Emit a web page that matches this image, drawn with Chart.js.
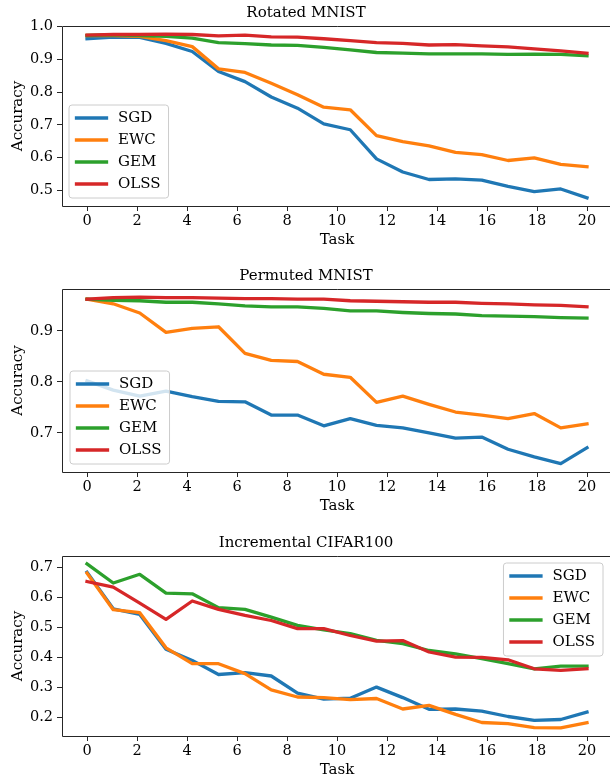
<!DOCTYPE html>
<html>
<head>
<meta charset="utf-8">
<script src="https://cdn.jsdelivr.net/npm/chart.js@4.4.0/dist/chart.umd.min.js"></script>
<style>
html, body { margin: 0; padding: 0; background: #fff; overflow: hidden; width: 610px; height: 778px; position: relative; }
canvas { position: absolute; left: 0; }
</style>
</head>
<body>
<canvas id="rotChart" width="612" height="250" style="top:0px"></canvas>
<canvas id="permChart" width="612" height="253" style="top:263px"></canvas>
<canvas id="cifarChart" width="612" height="250" style="top:530px"></canvas>
<script>
// 任务编号 (20 个点, 0~20)
const taskX = [0, 1.05, 2.11, 3.16, 4.21, 5.26, 6.32, 7.37, 8.42, 9.47, 10.53, 11.58, 12.63, 13.68, 14.74, 15.79, 16.84, 17.89, 18.95, 20];
const xTicks = [0, 2, 4, 6, 8, 10, 12, 14, 16, 18, 20];
const methods = ['SGD', 'EWC', 'GEM', 'OLSS'];
const colors = ['#1f77b4', '#ff7f0e', '#2ca02c', '#d62728'];

// Rotated MNIST
const rotSGD = [0.963, 0.968, 0.967, 0.949, 0.924, 0.863, 0.832, 0.785, 0.751, 0.703, 0.685, 0.596, 0.556, 0.533, 0.535, 0.531, 0.512, 0.496, 0.504, 0.477];
const rotEWC = [0.973, 0.973, 0.970, 0.957, 0.939, 0.871, 0.860, 0.827, 0.792, 0.754, 0.746, 0.667, 0.649, 0.636, 0.616, 0.609, 0.591, 0.599, 0.579, 0.572];
const rotGEM = [0.973, 0.975, 0.973, 0.970, 0.965, 0.951, 0.948, 0.944, 0.943, 0.937, 0.929, 0.921, 0.919, 0.917, 0.917, 0.917, 0.915, 0.916, 0.915, 0.911];
const rotOLSS = [0.974, 0.976, 0.976, 0.977, 0.976, 0.972, 0.974, 0.969, 0.968, 0.963, 0.957, 0.951, 0.949, 0.944, 0.945, 0.941, 0.938, 0.932, 0.926, 0.919];
const rotTicks = [0.5, 0.6, 0.7, 0.8, 0.9, 1.0];

// Permuted MNIST
const permSGD = [0.802, 0.784, 0.772, 0.782, 0.771, 0.762, 0.761, 0.735, 0.735, 0.714, 0.728, 0.715, 0.710, 0.700, 0.690, 0.692, 0.668, 0.653, 0.640, 0.671];
const permEWC = [0.962, 0.953, 0.935, 0.897, 0.905, 0.908, 0.856, 0.842, 0.840, 0.815, 0.809, 0.760, 0.772, 0.756, 0.741, 0.735, 0.728, 0.738, 0.710, 0.718];
const permGEM = [0.962, 0.960, 0.959, 0.956, 0.956, 0.953, 0.949, 0.947, 0.947, 0.944, 0.939, 0.939, 0.936, 0.934, 0.933, 0.930, 0.929, 0.928, 0.926, 0.925];
const permOLSS = [0.962, 0.965, 0.966, 0.965, 0.965, 0.964, 0.963, 0.963, 0.962, 0.962, 0.959, 0.958, 0.957, 0.956, 0.956, 0.954, 0.953, 0.951, 0.950, 0.947];
const permTicks = [0.7, 0.8, 0.9];

// Incremental CIFAR100
const cifarSGD = [0.685, 0.563, 0.544, 0.428, 0.391, 0.344, 0.350, 0.339, 0.282, 0.262, 0.265, 0.302, 0.267, 0.228, 0.229, 0.222, 0.204, 0.191, 0.194, 0.219];
const cifarEWC = [0.682, 0.560, 0.550, 0.433, 0.380, 0.380, 0.347, 0.293, 0.269, 0.267, 0.260, 0.264, 0.229, 0.241, 0.211, 0.184, 0.180, 0.167, 0.166, 0.183];
const cifarGEM = [0.713, 0.649, 0.678, 0.615, 0.613, 0.567, 0.561, 0.535, 0.508, 0.493, 0.480, 0.458, 0.447, 0.424, 0.413, 0.397, 0.380, 0.363, 0.372, 0.372];
const cifarOLSS = [0.654, 0.635, 0.582, 0.528, 0.589, 0.561, 0.541, 0.524, 0.497, 0.497, 0.474, 0.455, 0.457, 0.419, 0.402, 0.401, 0.393, 0.363, 0.358, 0.363];
const cifarTicks = [0.2, 0.3, 0.4, 0.5, 0.6, 0.7];

window.onload = function() {
    Chart.defaults.font.family = "'DejaVu Serif', serif";
    Chart.defaults.color = '#000';

    // 上、左、下边框 (右边框在画面外)
    const spines = {
        id: 'spines',
        afterDatasetsDraw(chart) {
            const ctx = chart.ctx;
            const a = chart.chartArea;
            const right = chart.width;
            ctx.save();
            ctx.strokeStyle = '#262626';
            ctx.lineWidth = 1;
            ctx.beginPath();
            ctx.moveTo(right, a.top + 0.5);
            ctx.lineTo(a.left + 0.5, a.top + 0.5);
            ctx.lineTo(a.left + 0.5, a.bottom + 0.5);
            ctx.lineTo(right, a.bottom + 0.5);
            ctx.stroke();
            ctx.restore();
        }
    };

    // matplotlib 风格图例
    const boxLegend = {
        id: 'boxLegend',
        afterDatasetsDraw(chart, args, opts) {
            const ctx = chart.ctx;
            const a = chart.chartArea;
            const sets = chart.data.datasets;
            ctx.save();
            ctx.font = "15px 'DejaVu Serif', serif";
            const textW = Math.max(...sets.map(d => ctx.measureText(d.label).width));
            const w = 49 + textW + 8;
            const h = 13 + (sets.length - 1) * 22 + 14;
            const x = opts.corner === 'upperright' ? a.right - opts.dx - w : a.left + opts.dx;
            const y = opts.corner === 'upperright' ? a.top + opts.dy : a.bottom - opts.dy - h;
            const r = 3;
            ctx.beginPath();
            ctx.moveTo(x + r, y);
            ctx.arcTo(x + w, y, x + w, y + h, r);
            ctx.arcTo(x + w, y + h, x, y + h, r);
            ctx.arcTo(x, y + h, x, y, r);
            ctx.arcTo(x, y, x + w, y, r);
            ctx.closePath();
            ctx.fillStyle = 'rgba(255,255,255,0.8)';
            ctx.fill();
            ctx.strokeStyle = '#cccccc';
            ctx.lineWidth = 1;
            ctx.stroke();
            sets.forEach((d, i) => {
                const cy = y + 13 + i * 22;
                ctx.strokeStyle = d.borderColor;
                ctx.lineWidth = 3.3;
                ctx.lineCap = 'square';
                ctx.beginPath();
                ctx.moveTo(x + 7.5, cy);
                ctx.lineTo(x + 37.5, cy);
                ctx.stroke();
                ctx.fillStyle = '#000';
                ctx.textBaseline = 'middle';
                ctx.textAlign = 'left';
                ctx.fillText(d.label, x + 49, cy);
            });
            ctx.restore();
        }
    };

    function makeChart(id, title, series, yMin, yMax, yTicks, legendOpts) {
        const ctx = document.getElementById(id).getContext('2d');
        return new Chart(ctx, {
            type: 'line',
            data: {
                datasets: series.map((s, i) => ({
                    label: methods[i],
                    data: s.map((v, j) => ({ x: taskX[j], y: v })),
                    borderColor: colors[i],
                    backgroundColor: colors[i],
                    borderWidth: 3.3,
                    borderCapStyle: 'square',
                    borderJoinStyle: 'round',
                    pointRadius: 0,
                    tension: 0,
                    fill: false,
                    order: series.length - i
                }))
            },
            options: {
                responsive: false,
                animation: false,
                devicePixelRatio: 1,
                layout: { padding: 0 },
                scales: {
                    x: {
                        type: 'linear',
                        min: -1,
                        max: 21,
                        afterBuildTicks: s => { s.ticks = xTicks.map(v => ({ value: v })); },
                        afterFit: s => { s.height = 44; },
                        grid: { display: true, drawOnChartArea: false, drawTicks: true, tickLength: 5, tickColor: '#262626' },
                        border: { display: false },
                        ticks: { padding: 2, font: { size: 14.5 }, maxRotation: 0, callback: v => String(v) },
                        title: { display: true, text: 'Task', font: { size: 15 }, padding: { top: 0, bottom: 1 } }
                    },
                    y: {
                        min: yMin,
                        max: yMax,
                        afterBuildTicks: s => { s.ticks = yTicks.map(v => ({ value: v })); },
                        afterFit: s => { s.width = 62; },
                        grid: { display: true, drawOnChartArea: false, drawTicks: true, tickLength: 5, tickColor: '#262626' },
                        border: { display: false },
                        ticks: { padding: 4, font: { size: 14.5 }, callback: v => v.toFixed(1) },
                        title: { display: true, text: 'Accuracy', font: { size: 15 }, padding: { top: 9, bottom: 0 } }
                    }
                },
                plugins: {
                    legend: { display: false },
                    tooltip: { enabled: false },
                    title: {
                        display: true,
                        text: title,
                        font: { size: 15, weight: 'normal' },
                        padding: { top: 4, bottom: 4 }
                    },
                    boxLegend: legendOpts
                }
            },
            plugins: [spines, boxLegend]
        });
    }

    makeChart('rotChart', 'Rotated MNIST', [rotSGD, rotEWC, rotGEM, rotOLSS], 0.452, 1.002, rotTicks,
        { corner: 'lowerleft', dx: 7, dy: 8 });
    makeChart('permChart', 'Permuted MNIST', [permSGD, permEWC, permGEM, permOLSS], 0.6235, 0.982, permTicks,
        { corner: 'lowerleft', dx: 8, dy: 8 });
    makeChart('cifarChart', 'Incremental CIFAR100', [cifarSGD, cifarEWC, cifarGEM, cifarOLSS], 0.139, 0.739, cifarTicks,
        { corner: 'upperright', dx: 9, dy: 7 });
};
</script>
</body>
</html>
